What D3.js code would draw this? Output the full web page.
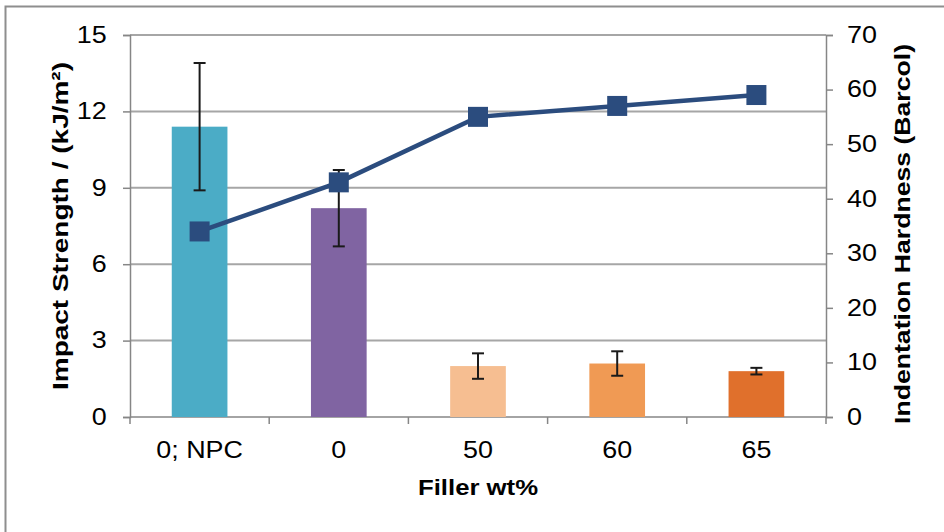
<!DOCTYPE html>
<html>
<head>
  <meta charset="utf-8">
  <title>Impact strength and hardness</title>
  <script src="https://d3js.org/d3.v7.min.js"></script>
  <style>
    body { margin: 0; background: #fff; }
    text { font-family: "Liberation Sans", Arial, sans-serif; fill: #000; }
    .axis path, .axis line { stroke: #868686; stroke-width: 1.5; }
  </style>
</head>
<body>
  <svg id="chart"></svg>
  <script>
    // data
    const categories = ["0; NPC", "0", "50", "60", "65"];
    const impact = [11.4, 8.2, 2.0, 2.1, 1.8];
    const impactErr = [2.5, 1.5, 0.5, 0.48, 0.13];
    const hardness = [34, 43, 55, 57, 59];
    const barColors = ["#4bacc6", "#8064a2", "#f6be91", "#f09a54", "#e0702c"];
    const leftTicks = [0, 3, 6, 9, 12, 15];
    const rightTicks = [0, 10, 20, 30, 40, 50, 60, 70];

    const W = 944, H = 532;
    const plot = { left: 130, right: 826, top: 35, bottom: 417 };
    const stretch = 1.17; // reference text is a bit wider than Arial

    const svg = d3.select("#chart").attr("width", W).attr("height", H);

    // outer frame (only top and left visible)
    svg.append("rect")
      .attr("x", 5.5).attr("y", 6.5)
      .attr("width", W).attr("height", H)
      .attr("fill", "none").attr("stroke", "#8e8e8e").attr("stroke-width", 2);

    const x = d3.scaleBand().domain(categories).range([plot.left, plot.right]);
    const yL = d3.scaleLinear().domain([0, 15]).range([plot.bottom, plot.top]);
    const yR = d3.scaleLinear().domain([0, 70]).range([plot.bottom, plot.top]);

    // gridlines
    svg.append("g")
      .selectAll("line")
      .data(leftTicks.filter(d => d > 0))
      .join("line")
      .attr("x1", plot.left).attr("x2", plot.right)
      .attr("y1", d => yL(d)).attr("y2", d => yL(d))
      .attr("stroke", "#a6a6a6").attr("stroke-width", 2);

    function tickText(g) {
      g.selectAll("text")
        .style("font-size", "23px")
        .attr("transform", `scale(${stretch},1)`);
    }

    // left axis
    svg.append("g").attr("class", "axis")
      .attr("transform", `translate(${plot.left},0)`)
      .call(d3.axisLeft(yL).tickValues(leftTicks).tickSize(7).tickPadding(13))
      .call(tickText);

    // right axis
    svg.append("g").attr("class", "axis")
      .attr("transform", `translate(${plot.right},0)`)
      .call(d3.axisRight(yR).tickValues(rightTicks).tickSize(7).tickPadding(11))
      .call(tickText);

    // bottom axis
    const gb = svg.append("g").attr("class", "axis")
      .attr("transform", `translate(0,${plot.bottom})`)
      .call(d3.axisBottom(x).tickSize(0).tickPadding(25))
      .call(tickText);
    gb.selectAll(".tick text").attr("transform", null)
      .each(function () {
        const t = d3.select(this);
        t.attr("transform", `scale(${stretch},1)`);
      });
    gb.select(".domain").attr("d", `M${plot.left},0H${plot.right}`);
    gb.append("g").selectAll("line")
      .data(d3.range(categories.length + 1))
      .join("line")
      .attr("x1", i => plot.left + i * x.step()).attr("x2", i => plot.left + i * x.step())
      .attr("y1", 0).attr("y2", 7)
      .attr("stroke", "#868686").attr("stroke-width", 1.5);

    // bars
    const bw = x.bandwidth() * 0.4;
    svg.append("g")
      .selectAll("rect")
      .data(categories)
      .join("rect")
      .attr("x", d => x(d) + x.bandwidth() / 2 - bw / 2)
      .attr("width", bw)
      .attr("y", (d, i) => yL(impact[i]))
      .attr("height", (d, i) => yL(0) - yL(impact[i]))
      .attr("fill", (d, i) => barColors[i]);

    // error bars
    const eb = svg.append("g").attr("stroke", "#1a1a1a").attr("stroke-width", 2);
    categories.forEach((c, i) => {
      const cx = x(c) + x.bandwidth() / 2;
      const hi = yL(impact[i] + impactErr[i]);
      const lo = yL(impact[i] - impactErr[i]);
      eb.append("line").attr("x1", cx).attr("x2", cx).attr("y1", hi).attr("y2", lo);
      eb.append("line").attr("x1", cx - 6).attr("x2", cx + 6).attr("y1", hi).attr("y2", hi);
      eb.append("line").attr("x1", cx - 6).attr("x2", cx + 6).attr("y1", lo).attr("y2", lo);
    });

    // hardness line
    const line = d3.line()
      .x((d, i) => x(categories[i]) + x.bandwidth() / 2)
      .y(d => yR(d));
    svg.append("path")
      .datum(hardness)
      .attr("d", line)
      .attr("fill", "none")
      .attr("stroke", "#2b4c7e")
      .attr("stroke-width", 4.5);

    svg.append("g")
      .selectAll("rect")
      .data(hardness)
      .join("rect")
      .attr("x", (d, i) => x(categories[i]) + x.bandwidth() / 2 - 10)
      .attr("y", d => yR(d) - 10)
      .attr("width", 20).attr("height", 20)
      .attr("fill", "#2b4c7e");

    // axis titles
    const titleStyle = (s, len) => s.style("font-size", "22px").style("font-weight", "bold")
      .attr("text-anchor", "middle")
      .attr("textLength", len).attr("lengthAdjust", "spacingAndGlyphs");
    svg.append("text")
      .attr("transform", "translate(68,226) rotate(-90)")
      .call(titleStyle, 328)
      .text("Impact Strength / (kJ/m²)");
    svg.append("text")
      .attr("transform", "translate(910,234) rotate(-90)")
      .call(titleStyle, 380)
      .text("Indentation Hardness (Barcol)");
    svg.append("text")
      .attr("x", 478).attr("y", 495)
      .call(titleStyle, 120)
      .text("Filler wt%");
  </script>
</body>
</html>
